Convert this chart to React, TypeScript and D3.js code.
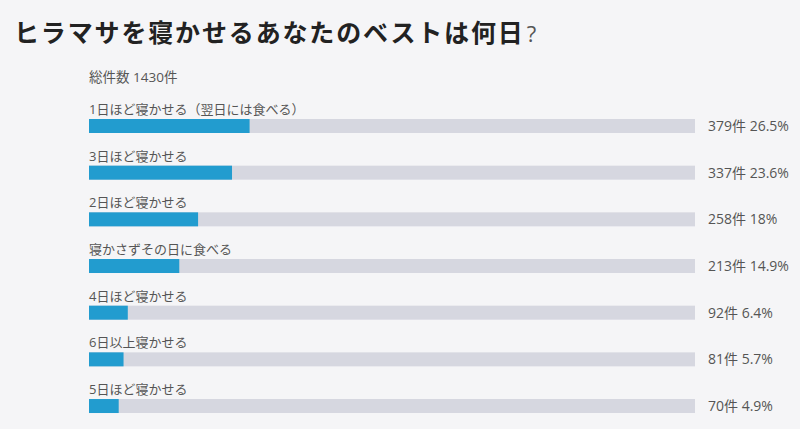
import React from "react";
import * as d3 from "d3";

const title = "ヒラマサを寝かせるあなたのベストは何日";
const totalLabel = "総件数 1430件";
const categories = [
  "1日ほど寝かせる（翌日には食べる）",
  "3日ほど寝かせる",
  "2日ほど寝かせる",
  "寝かさずその日に食べる",
  "4日ほど寝かせる",
  "6日以上寝かせる",
  "5日ほど寝かせる",
];
const counts = [379, 337, 258, 213, 92, 81, 70];
const percents = [26.5, 23.6, 18, 14.9, 6.4, 5.7, 4.9];

const W = 800;
const H = 429;
const FONT = "'Open Sans', 'Noto Sans CJK JP', sans-serif";

export default function App() {
  const x = d3.scaleLinear().domain([0, 100]).range([89, 695]);
  const y = d3
    .scaleBand<number>()
    .domain(d3.range(categories.length))
    .range([96, 96 + 46.67 * categories.length])
    .paddingInner(0);
  const barH = 14;
  const barOffset = 23;

  return (
    <svg
      width={W}
      height={H}
      style={{ position: "absolute", left: 0, top: 0, background: "#f5f5f7", fontFamily: FONT }}
    >
      <rect x={0} y={0} width={W} height={H} fill="#f5f5f7" />
      <text x={14} y={42} fontSize={25} fontWeight={700} fill="#222" letterSpacing={1.85}
        fontFamily="'Noto Sans CJK JP', sans-serif">
        {title}
        <tspan dx={2} fontWeight={400} fontSize={22} fill="#555" fontFamily="'Open Sans', sans-serif">?</tspan>
      </text>
      <text x={89} y={82} fontSize={13.5} fill="#555">{totalLabel}</text>
      {categories.map((c, i) => {
        const top = (y(i) as number) + barOffset;
        return (
          <g key={c}>
            <text x={89} y={top - 5} fontSize={13} fill="#555">{c}</text>
            <rect x={x(0)} y={top} width={x(100) - x(0)} height={barH} fill="#d6d7e0" />
            <rect x={x(0)} y={top} width={x(percents[i]) - x(0)} height={barH} fill="#229ccf" />
            <text x={708} y={top + barH / 2 + 5} fontSize={14} fill="#555">
              {`${counts[i]}件 ${percents[i]}%`}
            </text>
          </g>
        );
      })}
    </svg>
  );
}
